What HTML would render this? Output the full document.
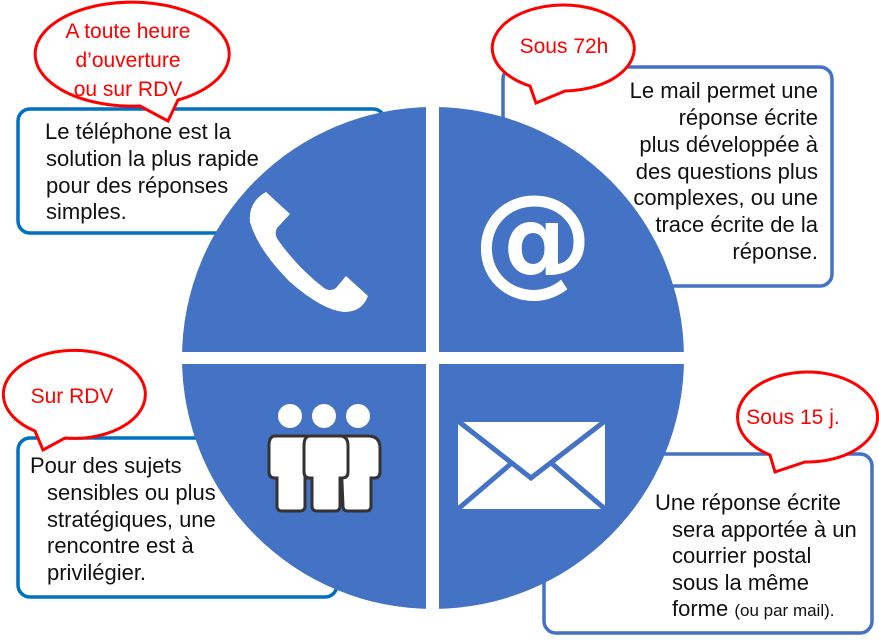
<!DOCTYPE html>
<html><head><meta charset="utf-8"><style>
html,body{margin:0;padding:0;background:#fff;}
svg{display:block;}
text{font-family:"Liberation Sans",sans-serif;}
.t{font-size:22px;fill:#111;}
.r{font-size:21px;fill:#f00;}
</style></head><body>
<svg width="879" height="642" viewBox="0 0 879 642" xmlns="http://www.w3.org/2000/svg">
<rect x="18" y="109" width="367" height="124" rx="12" fill="#fff" stroke="#0070c0" stroke-width="3.5"/>
<rect x="503" y="67" width="329" height="219" rx="12" fill="#fff" stroke="#4472c4" stroke-width="3.5"/>
<rect x="18" y="438" width="319" height="159" rx="12" fill="#fff" stroke="#0070c0" stroke-width="3.5"/>
<rect x="544" y="454" width="328" height="179" rx="12" fill="#fff" stroke="#4472c4" stroke-width="3.5"/>
<defs><clipPath id="c"><circle cx="433" cy="358" r="251"/></clipPath></defs>
<g clip-path="url(#c)" fill="#4472c4">
<rect x="150" y="100" width="276" height="252"/>
<rect x="439" y="100" width="260" height="252"/>
<rect x="150" y="364" width="276" height="260"/>
<rect x="439" y="364" width="260" height="260"/>
</g>
<g fill="#fff">
<path d="M266 192 L290 214 L277 228 Q274 234 278 240 Q298 268 324 288 Q330 292 336 288 L346 276 L368 296 Q362 312 344 312 Q322 310 290 282 Q258 250 250 222 Q248 202 266 192 Z"/>
</g>
<text x="533" y="280" font-size="120" font-weight="bold" fill="#fff" text-anchor="middle" style="font-family:'DejaVu Sans',sans-serif">@</text>
<g fill="#fff" stroke="#333" stroke-width="3">
<circle cx="290" cy="416" r="12" stroke="none"/>
<circle cx="324" cy="416" r="12" stroke="none"/>
<circle cx="358" cy="416" r="12" stroke="none"/>
<path d="M340 436 h28 q12 0 12 12 v24 q0 6 -6 6 h-3 v28 q0 5 -5 5 h-18 q-5 0 -5 -5 z"/>
<path d="M275 436 h30 q8 0 8 10 v26 q0 6 -6 6 h-2 v28 q0 5 -5 5 h-18 q-5 0 -5 -5 v-28 h-2 q-6 0 -6 -6 v-26 q0 -10 6 -10z"/>
<path d="M310 436 h30 q8 0 8 10 v26 q0 6 -6 6 h-2 v28 q0 5 -5 5 h-18 q-5 0 -5 -5 v-28 h-2 q-6 0 -6 -6 v-26 q0 -10 6 -10z"/>
</g>
<rect x="458" y="421" width="147" height="88" fill="#fff"/>
<polyline points="458,421 531,478 605,421" fill="none" stroke="#4472c4" stroke-width="5"/>
<line x1="458" y1="509" x2="513" y2="462" stroke="#4472c4" stroke-width="5"/>
<line x1="605" y1="509" x2="550" y2="462" stroke="#4472c4" stroke-width="5"/>
<rect x="458" y="418" width="147" height="4" fill="#4472c4"/>
<g fill="#fff" stroke="#f00" stroke-width="3">
<path d="M140 106 A97 52 0 1 1 178 100 L168 121 Z"/>
<path d="M530 86 A71 43 0 1 1 565 91 L536 103 Z"/>
<path d="M35 431 A71 44 0 1 1 65 438 L43 450 Z"/>
<path d="M770 455 A70 45 0 1 1 805 462 L775 472 Z"/>
</g>
<text class="r" text-anchor="middle" x="128" y="38">A toute heure</text>
<text class="r" text-anchor="middle" x="128" y="67">d’ouverture</text>
<text class="r" text-anchor="middle" x="128" y="96">ou sur RDV</text>
<text class="r" text-anchor="middle" x="564" y="53">Sous 72h</text>
<text class="r" text-anchor="middle" x="72" y="403">Sur RDV</text>
<text class="r" text-anchor="middle" x="793" y="424">Sous 15 j.</text>
<text class="t" x="45" y="139">Le téléphone est la</text>
<text class="t" x="46" y="166">solution la plus rapide</text>
<text class="t" x="46" y="193">pour des réponses</text>
<text class="t" x="46" y="219">simples.</text>
<g text-anchor="end">
<text class="t" x="818" y="98">Le mail permet une</text>
<text class="t" x="818" y="125">réponse écrite</text>
<text class="t" x="818" y="152">plus développée à</text>
<text class="t" x="818" y="179">des questions plus</text>
<text class="t" x="818" y="205">complexes, ou une</text>
<text class="t" x="818" y="232">trace écrite de la</text>
<text class="t" x="818" y="259">réponse.</text>
</g>
<text class="t" x="30" y="473">Pour des sujets</text>
<text class="t" x="47" y="500">sensibles ou plus</text>
<text class="t" x="47" y="527">stratégiques, une</text>
<text class="t" x="47" y="553">rencontre est à</text>
<text class="t" x="47" y="580">privilégier.</text>
<text class="t" x="655" y="510">Une réponse écrite</text>
<text class="t" x="672" y="537">sera apportée à un</text>
<text class="t" x="672" y="563">courrier postal</text>
<text class="t" x="672" y="590">sous la même</text>
<text class="t" x="672" y="616">forme <tspan font-size="17">(ou par mail).</tspan></text>
</svg>
</body></html>
